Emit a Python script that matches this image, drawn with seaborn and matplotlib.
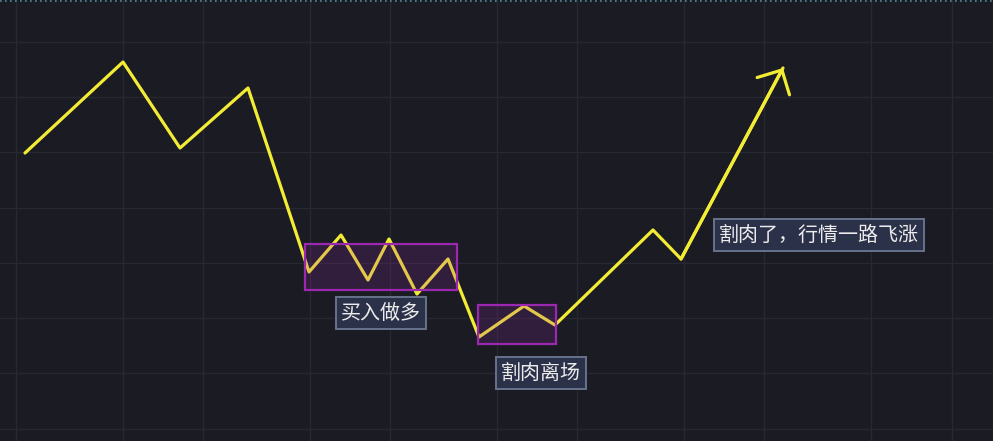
'''
Sketch of a "cut loss then it flies" price path on a dark chart.
'''

# imports
import pandas as pd
import numpy as np
import seaborn as sns
import matplotlib.pyplot as plt
from matplotlib.patches import Rectangle

# data: bar index (x) and price (y) of the path, turning points only
path_x = [25, 123, 180, 248, 309, 341, 368, 389, 417, 448, 479, 524, 555, 653, 681, 783]
path_price = [288, 379, 293, 353, 169, 206, 161, 202, 147, 182, 104, 135, 116, 211, 182, 373]

# ranges (x0, x1, low, high)
zone_buy = (305, 457, 151, 197)
zone_cut = (478, 556, 97, 136)

# labels
label_text = ['买入做多', '割肉离场', '割肉了，行情一路飞涨']
label_x = [381, 541, 819]
label_price = [128, 68, 206]

# grid
grid_x = [16, 123, 203, 310, 390, 497, 577, 684, 764, 871, 952]
grid_price = [12, 68, 123, 178, 233, 289, 344, 399]

## plot setup
col_bg = '#1a1b23'
col_grid = '#272831'
col_line = '#f3ec35'
col_zone = '#9c27b0'
col_box = {'face': '#2b3148', 'edge': '#66738a', 'text': '#ececec'}

sns.set_theme(style='dark', rc={'axes.facecolor': col_bg, 'figure.facecolor': col_bg})
plt.rcParams['font.family'] = ['Noto Sans CJK SC', 'DejaVu Sans']

fig = plt.figure(figsize=(9.93, 4.41), dpi=100)
ax = fig.add_axes([0, 0, 1, 1])

df = pd.DataFrame({'x': path_x, 'price': path_price})
sns.lineplot(data=df, x='x', y='price', sort=False, color=col_line, lw=2.3, ax=ax, zorder=2)

# open arrow head on the last leg
ax.annotate('', xy=(path_x[-1], path_price[-1]), xytext=(path_x[-2], path_price[-2]),
            arrowprops=dict(arrowstyle='->,head_length=1.1,head_width=1.1', color=col_line,
                            lw=2.3, shrinkA=0, shrinkB=0), zorder=2)

# zones drawn over the line
for x0, x1, lo, hi in [zone_buy, zone_cut]:
    ax.add_patch(Rectangle((x0, lo), x1 - x0, hi - lo, facecolor=col_zone, alpha=0.18,
                           edgecolor='none', zorder=3))
    ax.add_patch(Rectangle((x0, lo), x1 - x0, hi - lo, facecolor='none',
                           edgecolor=col_zone, lw=1.6, zorder=4))

for t, x, y in zip(label_text, label_x, label_price):
    ax.text(x, y, t, ha='center', va='center', fontsize=14.4, color=col_box['text'], zorder=5,
            bbox=dict(boxstyle='square,pad=0.27', facecolor=col_box['face'],
                      edgecolor=col_box['edge'], lw=1.4))

# top dotted border
ax.axhline(440, color='#4f8d96', lw=1.2, ls=(0, (1, 2)), zorder=1)

ax.set_xlim(0, 993)
ax.set_ylim(0, 441)
ax.set_xticks(grid_x)
ax.set_yticks(grid_price)
ax.grid(True, color=col_grid, lw=1)
ax.tick_params(length=0, labelbottom=False, labelleft=False)
ax.set_xlabel('')
ax.set_ylabel('')
for s in ax.spines.values():
    s.set_visible(False)

plt.savefig('out.png', dpi=100, facecolor=col_bg)
